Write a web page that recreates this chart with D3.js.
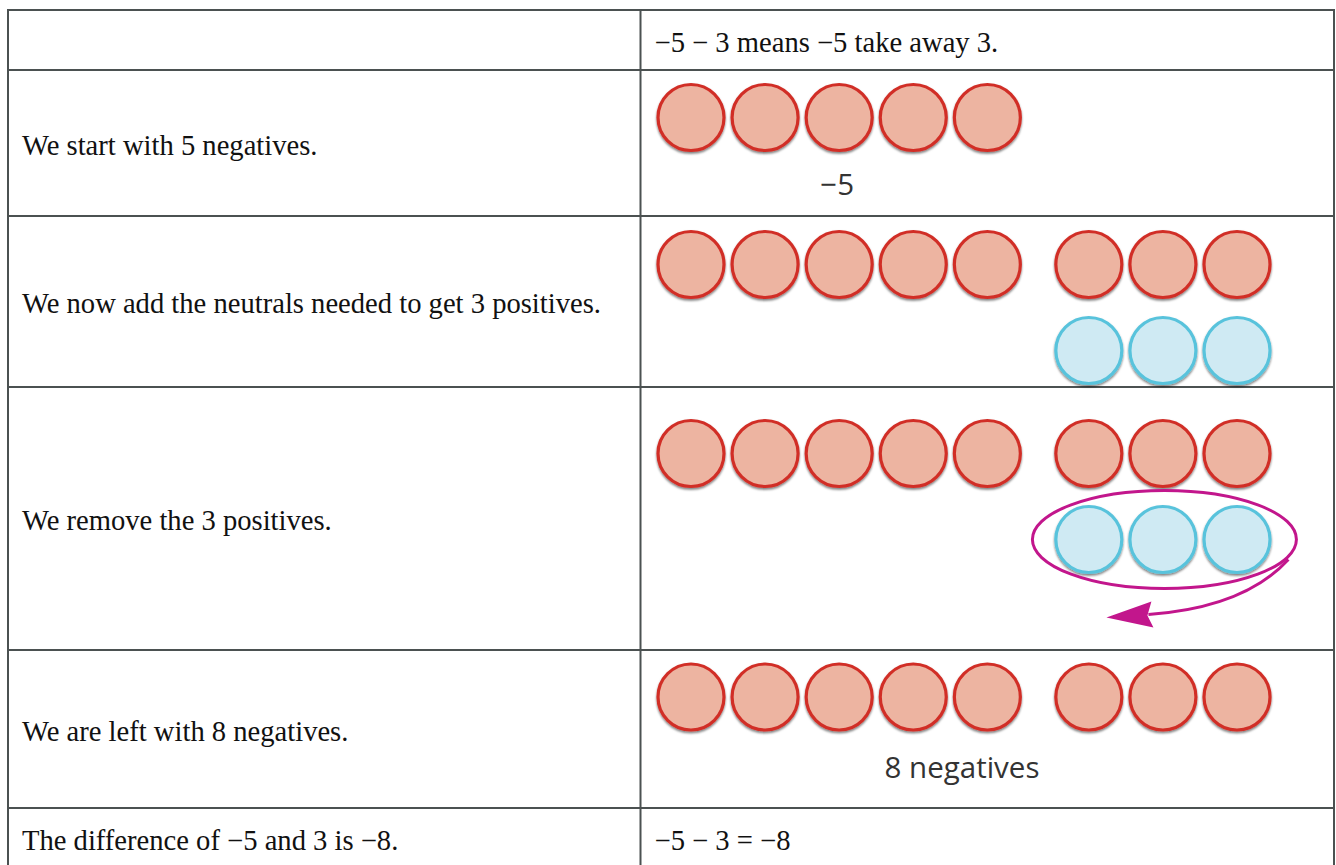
<!DOCTYPE html>
<html>
<head>
<meta charset="utf-8">
<script src="https://cdn.jsdelivr.net/npm/d3@7"></script>
<style>
  html, body { margin: 0; padding: 0; background: #fff; }
</style>
</head>
<body>
<div id="app"></div>
<script>
// table content
const leftTexts = [
  "",
  "We start with 5 negatives.",
  "We now add the neutrals needed to get 3 positives.",
  "We remove the 3 positives.",
  "We are left with 8 negatives.",
  "The difference of \u22125 and 3 is \u22128."
];
const rightTexts = [
  "\u22125 \u2212 3 means \u22125 take away 3.",
  "", "", "", "",
  "\u22125 \u2212 3 = \u22128"
];

// counters shown in each row
const negatives = [0, 5, 8, 8, 8, 0];
const positives = [0, 0, 3, 3, 0, 0];
const removed = [false, false, false, true, false, false];
const counterLabels = ["", "\u22125", "", "", "8 negatives", ""];

// layout
const screen = { width: 1336, height: 865 };
const table = {
  left: 8,
  right: 1334,
  top: 10,
  divider: 640.5,
  rowHeights: [60, 146, 171, 263, 158, 60],
  counterTop: [0, 47.5, 48.5, 66.5, 47, 0],
  textPadLeft: 14,
  textPadRight: 14,
  stroke: "#4b5151",
  strokeWidth: 2
};
const counter = {
  r: 33,
  firstX: 691,
  lastX: 1237,
  groupSize: 5,
  groupGap: 0.37,
  rowGap: 86,
  labelDy: [0, 77, 0, 0, 81, 0],
  neg: { fill: "#edb4a1", stroke: "#d12f28" },
  pos: { fill: "#cfeaf3", stroke: "#58c3dc" },
  strokeWidth: 3.2
};
const ring = { rx: 132, ry: 49, color: "#c2168c", width: 3 };
const fonts = {
  table: "'Liberation Serif', 'Times New Roman', serif",
  label: "'Open Sans', 'Noto Sans', sans-serif",
  size: 28.6,
  labelSize: 29.5
};

const rowEdges = [table.top];
table.rowHeights.forEach((h) => rowEdges.push(rowEdges[rowEdges.length - 1] + h));

const rows = leftTexts.map((t, i) => ({
  left: t,
  right: rightTexts[i],
  neg: negatives[i],
  pos: positives[i],
  removed: removed[i],
  label: counterLabels[i],
  labelDy: counter.labelDy[i],
  top: rowEdges[i],
  bottom: rowEdges[i + 1],
  counterY: rowEdges[i] + table.counterTop[i]
}));

// slot index -> x; second group sits a bit apart from the first five
const slot = (i) => i + (i >= counter.groupSize ? counter.groupGap : 0);
const x = d3
  .scaleLinear()
  .domain([0, slot(7)])
  .range([counter.firstX, counter.lastX]);

const svg = d3
  .create("svg")
  .attr("width", screen.width)
  .attr("height", screen.height)
  .style("display", "block")
  .style("background", "#fff");

const defs = svg.append("defs");
defs
  .append("filter")
  .attr("id", "shadow")
  .attr("x", "-20%")
  .attr("y", "-20%")
  .attr("width", "140%")
  .attr("height", "150%")
  .append("feDropShadow")
  .attr("dx", 0)
  .attr("dy", 1.8)
  .attr("stdDeviation", 1)
  .attr("flood-color", "#000")
  .attr("flood-opacity", 0.5);

// grid lines
const grid = svg
  .append("g")
  .attr("stroke", table.stroke)
  .attr("stroke-width", table.strokeWidth);

grid
  .selectAll("line.h")
  .data(rowEdges)
  .join("line")
  .attr("class", "h")
  .attr("x1", table.left - 1)
  .attr("x2", table.right + 1)
  .attr("y1", (d) => d)
  .attr("y2", (d) => d);

grid
  .selectAll("line.v")
  .data([table.left, table.divider, table.right])
  .join("line")
  .attr("class", "v")
  .attr("x1", (d) => d)
  .attr("x2", (d) => d)
  .attr("y1", table.top - 1)
  .attr("y2", rowEdges[rowEdges.length - 1] + 1);

// cell texts
const cellText = svg
  .append("g")
  .attr("font-family", fonts.table)
  .attr("font-size", fonts.size)
  .attr("fill", "#111");

cellText
  .selectAll("text.left")
  .data(rows.filter((d) => d.left))
  .join("text")
  .attr("class", "left")
  .attr("x", table.left + table.textPadLeft)
  .attr("y", (d) => (d.top + d.bottom) / 2 + 2)
  .attr("dominant-baseline", "central")
  .text((d) => d.left);

cellText
  .selectAll("text.right")
  .data(rows.filter((d) => d.right))
  .join("text")
  .attr("class", "right")
  .attr("x", table.divider + table.textPadRight)
  .attr("y", (d) => (d.top + d.bottom) / 2 + 2)
  .attr("dominant-baseline", "central")
  .text((d) => d.right);

// counters
const counters = [];
rows.forEach((row, ri) => {
  d3.range(row.neg).forEach((i) =>
    counters.push({ row: ri, kind: "neg", cx: x(slot(i)), cy: row.counterY })
  );
  d3.range(row.pos).forEach((j) =>
    counters.push({
      row: ri,
      kind: "pos",
      cx: x(slot(counter.groupSize + j)),
      cy: row.counterY + counter.rowGap
    })
  );
});

svg
  .append("g")
  .selectAll("circle")
  .data(counters)
  .join("circle")
  .attr("cx", (d) => d.cx)
  .attr("cy", (d) => d.cy)
  .attr("r", counter.r)
  .attr("fill", (d) => counter[d.kind].fill)
  .attr("stroke", (d) => counter[d.kind].stroke)
  .attr("stroke-width", counter.strokeWidth)
  .attr("filter", "url(#shadow)");

// labels under the counters
svg
  .append("g")
  .attr("font-family", fonts.label)
  .attr("font-size", fonts.labelSize)
  .attr("fill", "#333")
  .attr("text-anchor", "middle")
  .selectAll("text")
  .data(rows.filter((d) => d.label))
  .join("text")
  .attr("x", (d) => (x(slot(0)) + x(slot(d.neg - 1))) / 2 - 2)
  .attr("y", (d) => d.counterY + d.labelDy)
  .text((d) => d.label);

// ring and arrow for removed positives
const removal = rows
  .filter((d) => d.removed)
  .map((d) => ({
    cx: (x(slot(counter.groupSize)) + x(slot(counter.groupSize + d.pos - 1))) / 2 + 1.5,
    cy: d.counterY + counter.rowGap
  }));

const rm = svg.append("g").selectAll("g").data(removal).join("g");

rm.append("ellipse")
  .attr("cx", (d) => d.cx)
  .attr("cy", (d) => d.cy)
  .attr("rx", ring.rx)
  .attr("ry", ring.ry)
  .attr("fill", "none")
  .attr("stroke", ring.color)
  .attr("stroke-width", ring.width);

rm.append("path")
  .attr("d", (d) => {
    const p = d3.path();
    p.moveTo(d.cx + 124, d.cy + 20);
    p.quadraticCurveTo(d.cx + 80, d.cy + 68, d.cx - 16, d.cy + 75);
    return p.toString();
  })
  .attr("fill", "none")
  .attr("stroke", ring.color)
  .attr("stroke-width", ring.width);

rm.append("path")
  .attr("d", (d) =>
    `M${d.cx - 58},${d.cy + 78} L${d.cx - 13},${d.cy + 62} L${d.cx - 17},${d.cy + 76} L${d.cx - 11},${d.cy + 88} Z`
  )
  .attr("fill", ring.color);

d3.select("#app").append(() => svg.node());
</script>
</body>
</html>
